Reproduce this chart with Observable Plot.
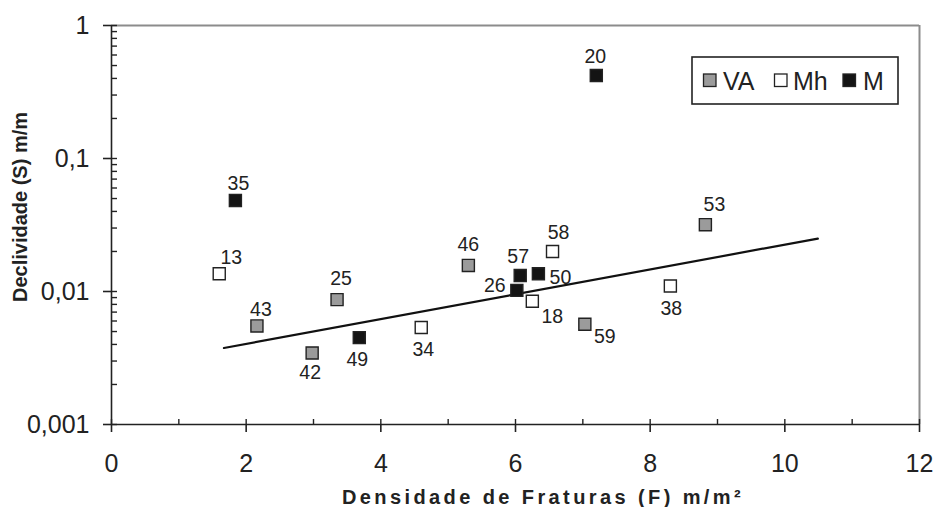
<!DOCTYPE html>
<html>
<head>
<meta charset="utf-8">
<script src="https://cdn.jsdelivr.net/npm/d3@7"></script>
<script src="https://cdn.jsdelivr.net/npm/@observablehq/plot@0.6"></script>
<style>
  html, body { margin: 0; padding: 0; background: #fff; }
  #wrap { position: relative; width: 936px; height: 507px; font-family: "Liberation Sans", Arial, sans-serif; }
  #overlay { position: absolute; left: 0; top: 0; pointer-events: none; }
</style>
</head>
<body>
<div id="wrap"></div>
<script>
// ---- data ----
const ids    = ["35", "13", "43", "42", "25", "49", "34", "46", "57", "50", "26", "18", "59", "58", "20", "53", "38"];
const groups = ["M", "Mh", "VA", "VA", "VA", "M", "Mh", "VA", "M", "M", "M", "Mh", "VA", "Mh", "M", "VA", "Mh"];
const fValues = [1.84, 1.60, 2.16, 2.98, 3.35, 3.68, 4.60, 5.30, 6.07, 6.34, 6.02, 6.25, 7.03, 6.55, 7.20, 8.82, 8.30];
const sValues = [0.0484, 0.0136, 0.00551, 0.00345, 0.00869, 0.00450, 0.00536, 0.0157, 0.0132, 0.0136, 0.0102, 0.00844, 0.00567, 0.0200, 0.421, 0.0318, 0.0110];
const trendF = [1.67, 10.49];
const trendS = [0.00376, 0.0250];
const seriesNames = ["VA", "Mh", "M"];
const xTicks = [0, 2, 4, 6, 8, 10, 12];
const xMinorTicks = [1, 3, 5, 7, 9, 11];
const yTicks = [0.001, 0.01, 0.1, 1];
const yTickLabels = ["0,001", "0,01", "0,1", "1"];

// label placement (styling, pixels relative to each square)
const labelDx = [3, 12, 4, -2, 4, -2, 2, 0, -2, 22, -22, 20, 20, 6, -1, 9, 1];
const labelDy = [-17, -16, -16, 20, -21, 22, 22, -21, -19, 4, -5, 15, 12, -19, -19, -20, 23];

const colors = ["#9b9b9b", "#ffffff", "#141414"];

const points = ids.map((id, i) => ({id, group: groups[i], F: fValues[i], S: sValues[i], dx: labelDx[i], dy: labelDy[i]}));
const trend = trendF.map((f, i) => ({F: f, S: trendS[i]}));

const yMinor = [];
for (const dec of [0.001, 0.01, 0.1]) for (let k = 1; k <= 9; k++) yMinor.push(+(dec * k).toPrecision(3));
yMinor.push(1);

const font = "Liberation Sans, Arial, sans-serif";

const chart = Plot.plot({
  width: 936,
  height: 507,
  marginLeft: 111,
  marginRight: 17,
  marginTop: 25,
  marginBottom: 83,
  style: {fontFamily: font, fontSize: "25px", color: "#222", background: "#fff"},
  x: {domain: [0, 12]},
  y: {type: "log", domain: [0.001, 1]},
  color: {domain: seriesNames, range: colors},
  marks: [
    Plot.ruleY([1], {stroke: "#8c8c8c", strokeWidth: 2}),
    Plot.ruleX([12], {stroke: "#8c8c8c", strokeWidth: 2}),
    Plot.ruleX([0], {stroke: "#222", strokeWidth: 1.6}),
    Plot.ruleY([0.001], {stroke: "#222", strokeWidth: 1.6}),
    Plot.axisY(yTicks, {tickSize: 8, tickPadding: 14, tickFormat: d => yTickLabels[yTicks.indexOf(d)], label: null, strokeWidth: 1.6, fontSize: 25}),
    Plot.axisY(yMinor, {tickSize: -6, tickFormat: () => "", label: null, strokeWidth: 1.4}),
    Plot.axisX(xTicks, {tickSize: 8, tickPadding: 22, label: null, strokeWidth: 1.6, fontSize: 25}),
    Plot.axisX(xTicks.concat(xMinorTicks), {tickSize: -5, tickFormat: () => "", label: null, strokeWidth: 1.4}),
    Plot.line(trend, {x: "F", y: "S", stroke: "#111", strokeWidth: 2.2}),
    Plot.dot(points, {x: "F", y: "S", symbol: "square", r: 6.8, fill: "group", stroke: "#222", strokeWidth: 1.4}),
    ...points.map(p => Plot.text([p], {x: "F", y: "S", text: "id", dx: p.dx, dy: p.dy, fontSize: 19.5, fill: "#222"}))
  ]
});

const wrap = document.getElementById("wrap");
wrap.appendChild(chart);

// overlay: axis titles and legend
const ns = "http://www.w3.org/2000/svg";
const ov = document.createElementNS(ns, "svg");
ov.setAttribute("id", "overlay");
ov.setAttribute("width", 936);
ov.setAttribute("height", 507);
ov.style.fontFamily = font;
function el(tag, attrs, text) {
  const e = document.createElementNS(ns, tag);
  for (const k in attrs) e.setAttribute(k, attrs[k]);
  if (text != null) e.textContent = text;
  ov.appendChild(e);
  return e;
}
el("text", {x: 342, y: 504, "font-size": 20, "font-weight": "bold", fill: "#222", "letter-spacing": 3.4}, "Densidade de Fraturas (F) m/m²");
el("text", {transform: "translate(27,207) rotate(-90)", "text-anchor": "middle", "font-size": 20, "font-weight": "bold", fill: "#222"}, "Declividade (S) m/m");

// legend
el("rect", {x: 692, y: 57, width: 206, height: 47, fill: "#fff", stroke: "#222", "stroke-width": 1.6});
const legX = [703.5, 774.5, 843];
const legTextX = [723, 793, 863];
seriesNames.forEach((s, i) => {
  el("rect", {x: legX[i], y: 74, width: 12.5, height: 12.5, fill: colors[i], stroke: "#222", "stroke-width": 1.3});
  el("text", {x: legTextX[i], y: 89.5, "font-size": 25, fill: "#222"}, s);
});
wrap.appendChild(ov);
</script>
</body>
</html>
